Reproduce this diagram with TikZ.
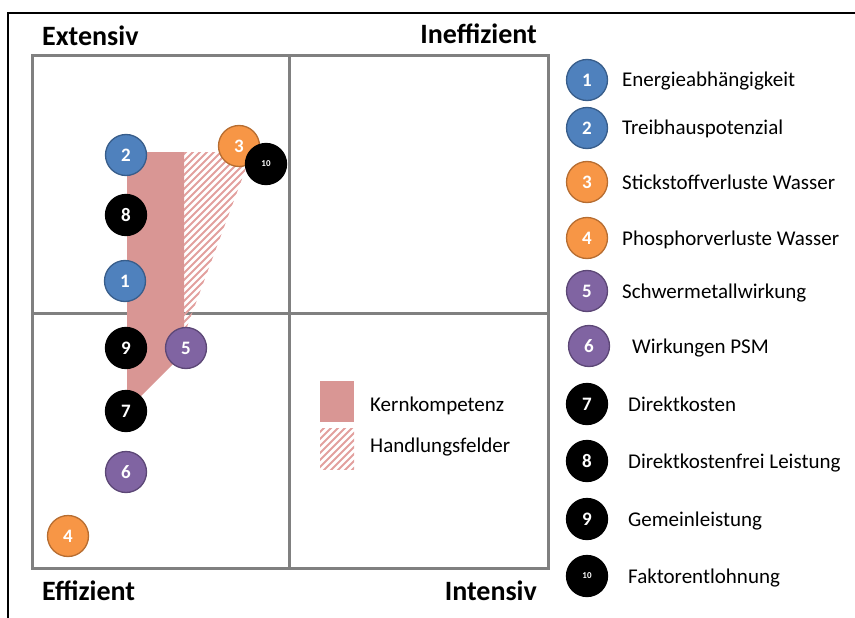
\documentclass[tikz,border=0pt]{standalone}
\usepackage{fontspec}
\setmainfont{Carlito}
\definecolor{cblue}{RGB}{79,129,189}
\definecolor{cblueb}{RGB}{56,93,138}
\definecolor{corange}{RGB}{247,150,70}
\definecolor{coranb}{RGB}{182,109,49}
\definecolor{cpurple}{RGB}{128,100,162}
\definecolor{cpurpb}{RGB}{92,71,118}
\definecolor{kern}{RGB}{217,150,148}
\definecolor{hatchc}{RGB}{226,160,158}
\definecolor{gridc}{RGB}{128,128,128}
\begin{document}
\begin{tikzpicture}[x=1pt,y=-1pt,
  circ/.style={circle, minimum size=41pt, inner sep=0pt, line width=1.3pt, text=white, font=\fontsize{19}{20}\selectfont\bfseries},
  bluec/.style={circ, fill=cblue, draw=cblueb},
  orangec/.style={circ, fill=corange, draw=coranb},
  purplec/.style={circ, fill=cpurple, draw=cpurpb},
  blackc/.style={circ, fill=black, draw=black},
  tenc/.style={circ, fill=black, draw=black, font=\fontsize{9}{10}\selectfont\bfseries},
  titletext/.style={inner sep=0pt, font=\fontsize{28}{30}\selectfont\bfseries},
  legtext/.style={inner sep=0pt, anchor=base west, font=\fontsize{21}{23}\selectfont},
  hatchline/.style={draw=hatchc, line width=1.8pt}
]
\useasboundingbox (0,0) rectangle (855,618);
% outer frame
\draw[black, line width=2pt] (8,619) -- (8,13) -- (856,13);
% grid
\draw[gridc, line width=3pt] (32,56) rectangle (548,568);
\draw[gridc, line width=3pt] (289,56) -- (289,568);
\draw[gridc, line width=3pt] (32,313) -- (548,313);
% Kernkompetenz area
\fill[kern] (127,152) -- (184,152) -- (184,353) -- (139,398) -- (127,398) -- cycle;
% Handlungsfelder area
\begin{scope}
\clip (184,152) -- (252,152) -- (184,335) -- cycle;
\foreach \k in {-40,...,20} \draw[hatchline] (100+\k*7,420) -- ++(320,-320);
\end{scope}
% titles
\node[titletext, anchor=base west] (ext) at (42,46) {Extensiv};
\node[titletext, anchor=base east] (ineff) at (537,44) {Ineffizient};
\node[titletext, anchor=base west] (eff) at (42,600) {Effizient};
\node[titletext, anchor=base east] (inten) at (537,600) {Intensiv};
% legend inside
\fill[kern] (320,381) rectangle (354,422);
\begin{scope}
\clip (320,428) rectangle (354,469);
\foreach \k in {-10,...,10} \draw[hatchline] (300+\k*7,480) -- ++(80,-80);
\end{scope}
\node[legtext] (lk) at (370,411) {Kernkompetenz};
\node[legtext] (lh) at (370,452) {Handlungsfelder};
% diagram circles
\node[bluec] (d2) at (126,155) {2};
\node[blackc] (d8) at (126,215) {8};
\node[bluec] (d1) at (125,281) {1};
\node[orangec] (d3) at (239,146) {3};
\node[tenc] (d10) at (266,164) {10};
\node[blackc] (d9) at (126,348) {9};
\node[purplec] (d5) at (186,348) {5};
\node[blackc] (d7) at (126,411) {7};
\node[purplec] (d6) at (126,472) {6};
\node[orangec] (d4) at (68,536) {4};
% right legend
\node[bluec] (l1) at (587,80) {1};
\node[bluec] (l2) at (587,128) {2};
\node[orangec] (l3) at (587,182) {3};
\node[orangec] (l4) at (587,238) {4};
\node[purplec] (l5) at (587,291) {5};
\node[purplec] (l6) at (589,346) {6};
\node[blackc] (l7) at (587,404) {7};
\node[blackc] (l8) at (587,461) {8};
\node[blackc] (l9) at (587,519) {9};
\node[tenc] (l10) at (587,576) {10};
\node[legtext] (t1) at (622,87) {Energieabhängigkeit};
\node[legtext] (t2) at (622,135) {Treibhauspotenzial};
\node[legtext] (t3) at (622,189) {Stickstoffverluste Wasser};
\node[legtext] (t4) at (622,245) {Phosphorverluste Wasser};
\node[legtext] (t5) at (622,298) {Schwermetallwirkung};
\node[legtext] (t6) at (632,353) {Wirkungen PSM};
\node[legtext] (t7) at (628,411) {Direktkosten};
\node[legtext] (t8) at (628,468) {Direktkostenfrei Leistung};
\node[legtext] (t9) at (628,526) {Gemeinleistung};
\node[legtext] (t10) at (628,583) {Faktorentlohnung};
\end{tikzpicture}
\end{document}
